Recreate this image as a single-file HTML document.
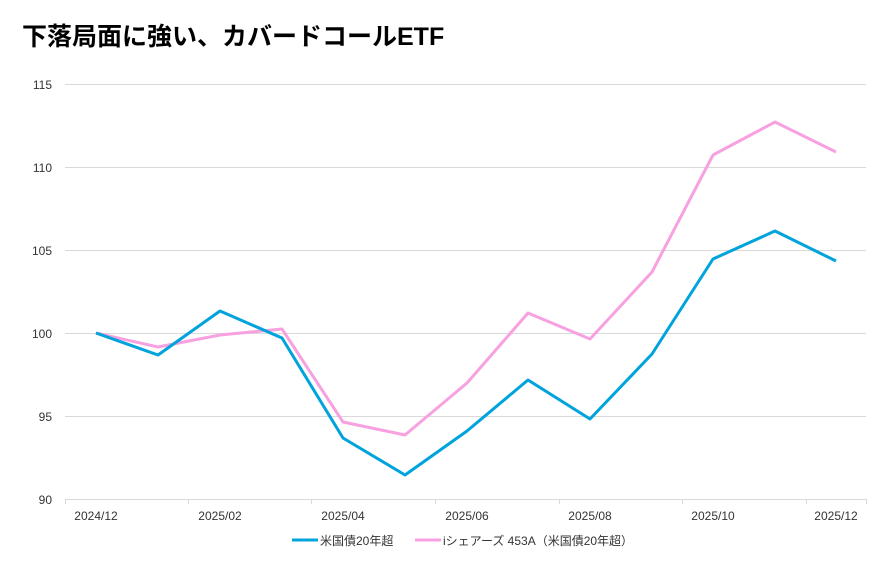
<!DOCTYPE html><html><head><meta charset="utf-8"><style>
body{margin:0;background:#fff;width:892px;height:560px;overflow:hidden;font-family:"Liberation Sans","Noto Sans CJK JP",sans-serif}
</style></head><body>
<svg width="892" height="560" xmlns="http://www.w3.org/2000/svg" font-family="Liberation Sans, Noto Sans CJK JP, sans-serif">
<text x="22" y="45" font-size="25" font-weight="bold" fill="#000">下落局面に強い、カバードコールETF</text>
<g stroke="#d9d9d9" stroke-width="1">
<line x1="65" x2="866" y1="84.5" y2="84.5"/><line x1="65" x2="866" y1="167.5" y2="167.5"/><line x1="65" x2="866" y1="250.5" y2="250.5"/><line x1="65" x2="866" y1="333.5" y2="333.5"/><line x1="65" x2="866" y1="416.5" y2="416.5"/><line x1="65" x2="866" y1="499.5" y2="499.5"/>
<line x1="65.5" x2="65.5" y1="499" y2="504"/><line x1="188.5" x2="188.5" y1="499" y2="504"/><line x1="311.5" x2="311.5" y1="499" y2="504"/><line x1="435.5" x2="435.5" y1="499" y2="504"/><line x1="559.5" x2="559.5" y1="499" y2="504"/><line x1="682.5" x2="682.5" y1="499" y2="504"/><line x1="806.5" x2="806.5" y1="499" y2="504"/><line x1="866.5" x2="866.5" y1="499" y2="504"/>
</g>
<g font-size="12" fill="#333" text-anchor="end">
<text x="52" y="89">115</text><text x="52" y="172">110</text><text x="52" y="255">105</text><text x="52" y="338">100</text><text x="52" y="421">95</text><text x="52" y="504">90</text>
</g>
<g font-size="12" fill="#333" text-anchor="middle">
<text x="96" y="520">2024/12</text><text x="220" y="520">2025/02</text><text x="343" y="520">2025/04</text><text x="467" y="520">2025/06</text><text x="590" y="520">2025/08</text><text x="713" y="520">2025/10</text><text x="836" y="520">2025/12</text>
</g>
<polyline fill="none" stroke="#f7a1e0" stroke-width="3" stroke-linejoin="round" points="96,333 158,347 220,335 282,329 343,422 405,435 467,383 528,313 590,339 652,272 713,155 775,122 836,152"/>
<polyline fill="none" stroke="#00a3dc" stroke-width="3" stroke-linejoin="round" points="96,333 158,355 220,311 282,338 343,438 405,475 467,431 528,380 590,419 652,354 713,259 775,231 836,261"/>
<line x1="292" x2="318" y1="540" y2="540" stroke="#00a3dc" stroke-width="3"/>
<text x="320" y="545" font-size="12" fill="#333">米国債20年超</text>
<line x1="415" x2="441" y1="540" y2="540" stroke="#f7a1e0" stroke-width="3"/>
<text x="443" y="545" font-size="12" fill="#333">iシェアーズ 453A（米国債20年超）</text>
</svg>
</body></html>
